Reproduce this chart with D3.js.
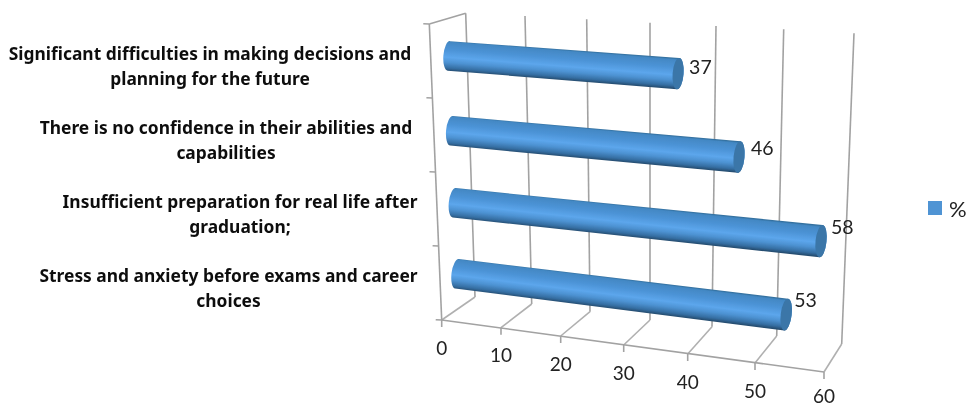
<!DOCTYPE html>
<html><head><meta charset="utf-8">
<script src="https://cdn.jsdelivr.net/npm/d3@7"></script>
<style>html,body{margin:0;background:#fff}svg{display:block}</style></head>
<body><svg id="c" width="969" height="407"></svg>
<script>
const categories=[
 ["Significant difficulties in making decisions and","planning for the future"],
 ["There is no confidence in their abilities and","capabilities"],
 ["Insufficient preparation for real life after","graduation;"],
 ["Stress and anxiety before exams and career","choices"]];
const values=[37,46,58,53];
const xTicks=[0,10,20,30,40,50,60];
const seriesName="%";

// perspective frame: piecewise scales for each edge of the 3D box
const s=(xs,ys)=>{const X=d3.scaleLinear().domain(xTicks).range(xs),Y=d3.scaleLinear().domain(xTicks).range(ys);return v=>[X(v),Y(v)];};
const frontFloor=s([441.7,501,560.7,623.7,687.7,755,824],[320,327.7,336,345,354,363,372]);
const backFloor=s([475,531.7,590,650,712,776.7,841.7],[297,304,311.7,320,326.7,336,344]);
const backTop=s([465.7,525,586.7,650,716,783.7,854],[13.3,16,19.3,22.7,26,29.3,33.3]);
const frontTop=s([429.3,488,550,613,679,749,822],[24,29,35,41,46,50,50]);
const lerp=(a,b,t)=>[a[0]+(b[0]-a[0])*t,a[1]+(b[1]-a[1])*t];
const hScale=d3.scaleBand().domain(d3.range(categories.length)).range([1,0]);
const point=(v,h,d)=>lerp(lerp(frontFloor(v),frontTop(v),h),lerp(backFloor(v),backTop(v),h),d);
const radius=d3.scaleLinear().domain([0,60]).range([14.8,16.2]);

const svg=d3.select("#c");
const defs=svg.append("defs");
defs.append("filter").attr("id","soft").attr("x",0).attr("y",0)
  .attr("filterUnits","userSpaceOnUse").attr("width",969).attr("height",407)
  .append("feGaussianBlur").attr("stdDeviation",0.45);
const root=svg.append("g").attr("filter","url(#soft)");
root.append("rect").attr("width",969).attr("height",407).attr("fill","#fff");
const grid="#a2a2a2";
const g=root.append("g").attr("fill","none").attr("stroke",grid).attr("stroke-width",1.6);
const seg=(a,b,col)=>g.append("line").attr("x1",a[0]).attr("y1",a[1]).attr("x2",b[0]).attr("y2",b[1]).attr("stroke",col||grid);
xTicks.forEach(v=>{
  seg(backTop(v),backFloor(v));
  seg(backFloor(v),frontFloor(v),"#b0b0b0");
  const f=frontFloor(v); seg(f,[f[0],f[1]+7]);
});
seg(frontFloor(0),frontFloor(60));
seg(frontFloor(0),frontTop(0));
seg(frontTop(0),backTop(0));
d3.range(categories.length+1).forEach(i=>{
  const p=lerp(frontFloor(0),frontTop(0),i/categories.length);
  seg(p,[p[0]-6,p[1]-0.3]);
});

const bars=root.append("g");
const h0=hScale.bandwidth()/2;
const barNudge=[1,3.5,3,1.5];
const labelShift=[[11,-7],[12,-9.5],[10,-15],[8,-15.5]];
values.forEach((val,i)=>{
  const h=hScale(i)+h0;
  const a=point(0,h,.5), b=point(val,h,.5);
  a[1]+=barNudge[i]; b[1]+=barNudge[i];
  const L=Math.hypot(b[0]-a[0],b[1]-a[1]);
  const ux=(b[0]-a[0])/L, uy=(b[1]-a[1])/L, px=-uy, py=ux;
  const ra=radius(0), rb=radius(val), ang=Math.atan2(uy,ux)*180/Math.PI, ex=5.5;
  const m=lerp(a,b,.5), rm=(ra+rb)/2;
  const gr=defs.append("linearGradient").attr("id","cyl"+i).attr("gradientUnits","userSpaceOnUse")
    .attr("x1",m[0]-px*rm).attr("y1",m[1]-py*rm).attr("x2",m[0]+px*rm).attr("y2",m[1]+py*rm);
  [[0,"#33709f"],[.05,"#4388c4"],[.3,"#4c93d6"],[.55,"#5ca6ec"],[.72,"#4d92d2"],[.9,"#356ea2"],[1,"#264d70"]]
    .forEach(q=>gr.append("stop").attr("offset",q[0]).attr("stop-color",q[1]));
  const P=(c,r,sg)=>[c[0]+sg*px*r,c[1]+sg*py*r];
  const a1=P(a,ra,-1),a2=P(a,ra,1),b1=P(b,rb,-1),b2=P(b,rb,1);
  bars.append("path").attr("fill",`url(#cyl${i})`)
    .attr("d",`M${a1}L${b1}A${ex} ${rb} ${ang} 0 1 ${b2}L${a2}A${ex} ${ra} ${ang} 0 1 ${a1}Z`);
  bars.append("ellipse").attr("rx",ex).attr("ry",rb).attr("fill","#3a76a8")
    .attr("transform",`translate(${b}) rotate(${ang})`);
  root.append("text").attr("x",b[0]+labelShift[i][0]).attr("y",b[1]+labelShift[i][1])
    .attr("dominant-baseline","central").attr("font-family","Lato").attr("font-size",19.5).attr("fill","#222").text(val);
});

xTicks.forEach(v=>{
  const f=frontFloor(v);
  root.append("text").attr("x",f[0]).attr("y",Math.min(f[1]+27,395.5)).attr("text-anchor","middle").attr("dominant-baseline","central")
    .attr("font-family","Lato").attr("font-size",19).attr("fill","#222").text(v);
});

const labelX=[210,226,240,228.5], labelY=d3.scalePoint().domain(d3.range(4)).range([65,287]);
categories.forEach((c,i)=>c.forEach((t,j)=>{
  root.append("text").attr("x",labelX[i]).attr("y",labelY(i)+(j-.5)*25).attr("text-anchor","middle").attr("dominant-baseline","central")
   .attr("font-family","'Noto Sans'").attr("font-weight",700).attr("font-size",17.4).attr("fill","#111").text(t);
}));

root.append("rect").attr("x",928).attr("y",201).attr("width",14).attr("height",14).attr("fill","#4f94d4");
root.append("text").attr("x",949).attr("y",208).attr("dominant-baseline","central").attr("font-family","Lato").attr("font-size",22).attr("fill","#222").text(seriesName);
</script></body></html>
